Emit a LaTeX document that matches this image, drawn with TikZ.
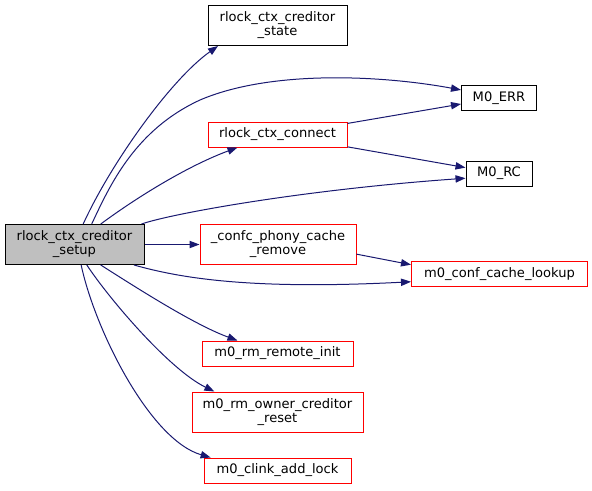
\documentclass[tikz,border=0pt]{standalone}
\usepackage{fontspec}
\setmainfont{DejaVu Sans}
\usetikzlibrary{arrows.meta}
\definecolor{edgeblue}{HTML}{191970}
\definecolor{boxred}{HTML}{FF0000}
\definecolor{boxgray}{HTML}{BFBFBF}
\begin{document}
\begin{tikzpicture}[
  x=0.75pt, y=-0.75pt,
  every node/.style={font=\fontsize{9.8}{10.5}\selectfont, align=center, inner sep=0pt},
  fn/.style={rectangle, draw=black, line width=0.75pt, minimum height=18.75pt},
  fntwo/.style={fn, minimum height=30pt},
  ext/.style={draw=boxred},
  root/.style={fill=boxgray},
  call/.style={draw=edgeblue, line width=0.75pt,
               -{Triangle[length=7.5pt, width=5.5pt]}}
]
\useasboundingbox (0,0) rectangle (592,490);
% Caller on the left
\node[fntwo, root, minimum width=104.25pt] (setup) at (74.5, 244.5) {rlock\_ctx\_creditor\\\_setup};
% Middle column: direct callees
\node[fntwo, minimum width=104.25pt]      (state)   at (277.5, 25.5)  {rlock\_ctx\_creditor\\\_state};
\node[fn, ext, minimum width=104.25pt]    (connect) at (277.5, 134.5) {rlock\_ctx\_connect};
\node[fntwo, ext, minimum width=117pt]    (confc)   at (278, 244.5)   {\_confc\_phony\_cache\\\_remove};
\node[fn, ext, minimum width=113.25pt]    (remote)  at (277.5, 353.5) {m0\_rm\_remote\_init};
\node[fntwo, ext, minimum width=128.25pt] (owner)   at (277.5, 412)   {m0\_rm\_owner\_creditor\\\_reset};
\node[fn, ext, minimum width=110.25pt]    (clink)   at (277.5, 470.5) {m0\_clink\_add\_lock};
% Right column: shared callees
\node[fn, minimum width=56.25pt]          (err)     at (499, 98)      {M0\_ERR};
\node[fn, minimum width=49.5pt]           (rc)      at (499, 173.5)   {M0\_RC};
\node[fn, ext, minimum width=132pt]       (lookup)  at (499.5, 274)   {m0\_conf\_cache\_lookup};
% Calls from the caller
\draw[call] (setup.67)  .. controls (110,165) and (170,80)  .. (state.199);
\draw[call] (setup.50)  .. controls (110,185) and (135,130) .. (200,100)
                        .. controls (270,70)  and (380,75)  .. (err.168);
\draw[call] (setup.38)  .. controls (140,195) and (190,165) .. (connect.198);
\draw[call] (setup.17)  .. controls (170,214) and (300,190) .. (rc.188);
\draw[call] (setup.east) -- (confc.west);
\draw[call] (setup.-19) .. controls (180,278) and (250,290) .. (lookup.185);
\draw[call] (setup.-38) .. controls (140,290) and (195,325) .. (remote.162);
\draw[call] (setup.-59) .. controls (110,300) and (170,370) .. (owner.162);
\draw[call] (setup.-72) .. controls (95,330)  and (150,440) .. (clink.169);
% Calls between callees
\draw[call] (connect.9)   -- (err.189);
\draw[call] (connect.-10) -- (rc.170);
\draw[call] (confc.-7)    -- (lookup.174);
\end{tikzpicture}
\end{document}
